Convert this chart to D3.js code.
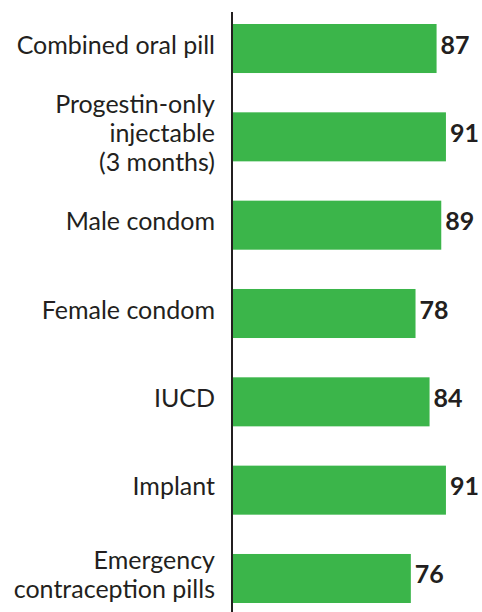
<!DOCTYPE html>
<html><head><meta charset="utf-8">
<script src="https://cdn.jsdelivr.net/npm/d3@7"></script>
<style>html,body{margin:0;padding:0;background:#fff;overflow:hidden}</style>
</head><body>
<svg id="chart" width="482" height="612"></svg>
<script>
const categories = ["Combined oral pill", "Progestin-only injectable (3 months)", "Male condom", "Female condom", "IUCD", "Implant", "Emergency contraception pills"];
const labelLines = [["Combined oral pill"], ["Progestin-only", "injectable", "(3 months)"], ["Male condom"], ["Female condom"], ["IUCD"], ["Implant"], ["Emergency", "contraception pills"]];
const values = [87, 91, 89, 78, 84, 91, 76];

const svg = d3.select("#chart");
const W = 482, H = 612;
const x0 = 233;
const x = d3.scaleLinear().domain([0, 100]).range([x0, x0 + 234]);
const step = 88.33, pi = 0.445, po = 0.2;
const yStart = 24 - po * step;
const y = d3.scaleBand().domain(categories).paddingInner(pi).paddingOuter(po)
  .range([yStart, yStart + step * (categories.length - pi + 2 * po)]);

const green = "#3bb54a", ink = "#231f20";
const font = "Lato, 'Open Sans', sans-serif";

svg.append("g").selectAll("rect").data(categories).join("rect")
  .attr("x", x(0)).attr("y", d => y(d))
  .attr("width", (d, i) => x(values[i]) - x(0))
  .attr("height", y.bandwidth()).attr("fill", green);

svg.append("line").attr("x1", 232).attr("x2", 232).attr("y1", 12).attr("y2", H)
  .attr("stroke", ink).attr("stroke-width", 2);

const lh = 28.8;
const lab = svg.append("g").attr("font-family", font).attr("font-size", 25).attr("fill", ink).attr("text-anchor", "end");
categories.forEach((c, i) => {
  const cy = y(c) + y.bandwidth() / 2;
  const lines = labelLines[i];
  lines.forEach((t, j) => {
    lab.append("text").attr("x", 215).attr("y", cy + 5 + (j - (lines.length - 1) / 2) * lh).text(t);
  });
});

svg.append("g").attr("font-family", font).attr("font-size", 25).attr("font-weight", "bold").attr("fill", ink)
  .selectAll("text").data(categories).join("text")
  .attr("x", (d, i) => x(values[i]) + 4)
  .attr("y", d => y(d) + y.bandwidth() / 2 + 5)
  .text((d, i) => values[i]);
</script>
</body></html>
